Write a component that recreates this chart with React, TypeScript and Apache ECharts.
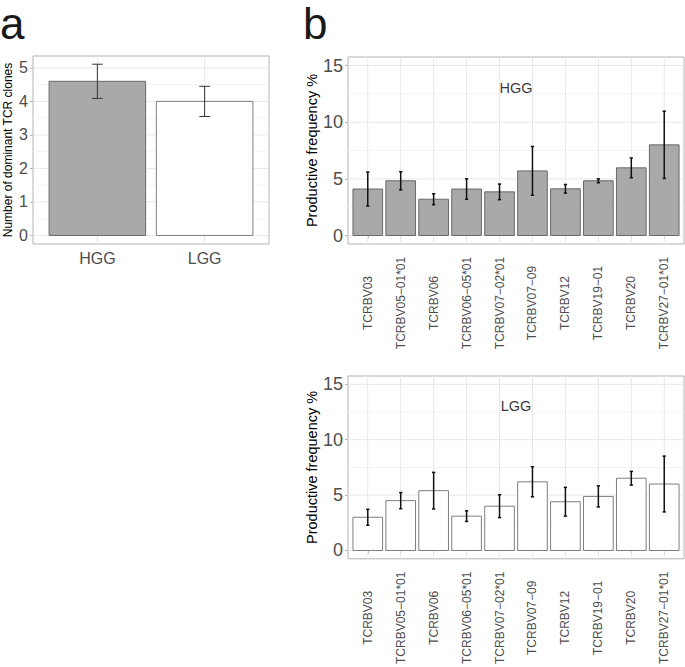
import React, { useEffect, useRef } from 'react';
import * as echarts from 'echarts';

// ---------- data ----------
const groupsA = ['HGG', 'LGG'];
const clonesMean = [4.6, 4.0];
const clonesErr = [0.51, 0.45];
const ticksA = [0, 1, 2, 3, 4, 5];
const minorA = [0.5, 1.5, 2.5, 3.5, 4.5];

const genes = [
  'TCRBV03',
  'TCRBV05\u221201*01',
  'TCRBV06',
  'TCRBV06\u221205*01',
  'TCRBV07\u221202*01',
  'TCRBV07\u221209',
  'TCRBV12',
  'TCRBV19\u221201',
  'TCRBV20',
  'TCRBV27\u221201*01',
];
const hggMean = [4.1, 4.83, 3.2, 4.1, 3.85, 5.7, 4.12, 4.83, 5.97, 8.0];
const hggErr = [1.5, 0.8, 0.48, 0.9, 0.69, 2.15, 0.38, 0.17, 0.87, 2.97];
const lggMean = [3.0, 4.5, 5.4, 3.1, 4.0, 6.2, 4.4, 4.88, 6.52, 6.0];
const lggErr = [0.72, 0.73, 1.65, 0.48, 1.03, 1.36, 1.3, 0.95, 0.62, 2.52];
const ticksB = [0, 5, 10, 15];
const minorB = [2.5, 7.5, 12.5];

// ---------- helpers ----------
const FONT = '"Liberation Sans", Arial, Helvetica, sans-serif';
const GRAY_TXT = '#4d4d4d';
const BORDER = '#b3b3b3';

function barRender(hw: number, fill: string, stroke: string) {
  return (params: any, api: any) => {
    const x = api.value(0);
    const y = api.value(1);
    const a = api.coord([x - hw, 0]);
    const b = api.coord([x + hw, y]);
    return {
      type: 'rect',
      shape: { x: a[0], y: b[1], width: b[0] - a[0], height: a[1] - b[1] },
      style: { fill, stroke, lineWidth: 1 },
    };
  };
}

function errRender(hw: number, color: string, lw: number) {
  return (params: any, api: any) => {
    const x = api.value(0);
    const m = api.value(1);
    const e = api.value(2);
    const top = api.coord([x, m + e]);
    const bot = api.coord([x, m - e]);
    const l = api.coord([x - hw, m])[0];
    const r = api.coord([x + hw, m])[0];
    const st = { stroke: color, lineWidth: lw };
    return {
      type: 'group',
      children: [
        { type: 'line', shape: { x1: top[0], y1: top[1], x2: bot[0], y2: bot[1] }, style: st },
        { type: 'line', shape: { x1: l, y1: top[1], x2: r, y2: top[1] }, style: st },
        { type: 'line', shape: { x1: l, y1: bot[1], x2: r, y2: bot[1] }, style: st },
      ],
    };
  };
}

// kind: 0 horizontal major, 1 horizontal minor, 2 vertical major
function gridRender(refX: number) {
  return (params: any, api: any) => {
    const v = api.value(0);
    const kind = api.value(1);
    const cs = params.coordSys;
    const color = kind === 1 ? '#f3f3f3' : '#e8e8e8';
    if (kind === 2) {
      const x = api.coord([v, 0])[0];
      return {
        type: 'line',
        shape: { x1: x, y1: cs.y, x2: x, y2: cs.y + cs.height },
        style: { stroke: color, lineWidth: 1 },
      };
    }
    const y = api.coord([refX, v])[1];
    return {
      type: 'line',
      shape: { x1: cs.x, y1: y, x2: cs.x + cs.width, y2: y },
      style: { stroke: color, lineWidth: 1 },
    };
  };
}

function gridData(majors: number[], minors: number[], centers: number[]) {
  return [
    ...majors.map((v) => [v, 0]),
    ...minors.map((v) => [v, 1]),
    ...centers.map((v) => [v, 2]),
  ];
}

const centersA = groupsA.map((_, i) => i + 1);
const centersB = genes.map((_, i) => i + 1);

function xAxisFor(gridIndex: number, n: number, names: string[], labelOpts: any) {
  const centers = names.map((_, i) => i + 1);
  return {
    type: 'value',
    gridIndex,
    min: 0.4,
    max: n + 0.6,
    axisLine: { show: false },
    splitLine: { show: false },
    axisTick: { show: true, customValues: centers, length: 3, lineStyle: { color: BORDER, width: 1 } },
    axisLabel: {
      customValues: centers,
      formatter: (v: number) => names[Math.round(v) - 1] ?? '',
      color: GRAY_TXT,
      fontFamily: FONT,
      ...labelOpts,
    },
  };
}

function yAxisFor(gridIndex: number, min: number, max: number, ticks: number[], fontSize: number, name: string, nameSize: number, nameGap: number) {
  return {
    type: 'value',
    gridIndex,
    min,
    max,
    name,
    nameLocation: 'middle',
    nameGap,
    nameTextStyle: { fontSize: nameSize, color: '#000', fontFamily: FONT },
    axisLine: { show: false },
    splitLine: { show: false },
    axisTick: { show: true, customValues: ticks, length: 3, lineStyle: { color: BORDER, width: 1 } },
    axisLabel: {
      customValues: ticks,
      formatter: (v: number) => String(v),
      color: GRAY_TXT,
      fontFamily: FONT,
      fontSize,
      margin: 5,
    },
  };
}

export default function App() {
  const ref = useRef<HTMLDivElement>(null);

  useEffect(() => {
    if (!ref.current) return;
    const chart = echarts.init(ref.current, undefined, { renderer: 'svg' });

    const gridStyle = { show: true, borderColor: BORDER, borderWidth: 1, backgroundColor: 'transparent' };

    const option: any = {
      animation: false,
      backgroundColor: '#ffffff',
      textStyle: { fontFamily: FONT },
      grid: [
        { ...gridStyle, left: 33, top: 56, width: 236, height: 188 },
        { ...gridStyle, left: 348, top: 57, width: 336, height: 187 },
        { ...gridStyle, left: 348, top: 376, width: 336, height: 186 },
      ],
      xAxis: [
        xAxisFor(0, groupsA.length, groupsA, { fontSize: 16, margin: 6 }),
        xAxisFor(1, genes.length, genes, { fontSize: 12, rotate: 90, align: 'center', verticalAlign: 'middle', margin: 59, interval: 0 }),
        xAxisFor(2, genes.length, genes, { fontSize: 12, rotate: 90, align: 'center', verticalAlign: 'middle', margin: 59, interval: 0 }),
      ],
      yAxis: [
        yAxisFor(0, -0.255, 5.355, ticksA, 16, 'Number of dominant TCR clones', 12, 19),
        yAxisFor(1, -0.75, 15.75, ticksB, 18, 'Productive frequency %', 14.5, 25),
        yAxisFor(2, -0.75, 15.75, ticksB, 18, 'Productive frequency %', 14.5, 25),
      ],
      graphic: [
        { type: 'text', left: 0, top: 1, style: { text: 'a', fontSize: 44, lineHeight: 28, fontFamily: FONT, fill: '#1a1a1a' } },
        { type: 'text', left: 303, top: 1, style: { text: 'b', fontSize: 44, lineHeight: 28, fontFamily: FONT, fill: '#1a1a1a' } },
      ],
      series: [
        // grid lines
        { type: 'custom', xAxisIndex: 0, yAxisIndex: 0, z: 1, silent: true, renderItem: gridRender(1), data: gridData(ticksA, minorA, centersA) },
        { type: 'custom', xAxisIndex: 1, yAxisIndex: 1, z: 1, silent: true, renderItem: gridRender(1), data: gridData(ticksB, minorB, centersB) },
        { type: 'custom', xAxisIndex: 2, yAxisIndex: 2, z: 1, silent: true, renderItem: gridRender(1), data: gridData(ticksB, minorB, centersB) },
        // panel a bars
        {
          type: 'custom', xAxisIndex: 0, yAxisIndex: 0, z: 2,
          renderItem: barRender(0.45, '#a9a9a9', '#6a6a6a'),
          data: [[1, clonesMean[0]]],
        },
        {
          type: 'custom', xAxisIndex: 0, yAxisIndex: 0, z: 2,
          renderItem: barRender(0.45, '#ffffff', '#7f7f7f'),
          data: [[2, clonesMean[1]]],
        },
        {
          type: 'custom', xAxisIndex: 0, yAxisIndex: 0, z: 3,
          renderItem: errRender(0.05, '#333333', 1),
          data: clonesMean.map((m, i) => [i + 1, m, clonesErr[i]]),
        },
        // panel b HGG
        {
          type: 'custom', xAxisIndex: 1, yAxisIndex: 1, z: 2,
          renderItem: barRender(0.45, '#a9a9a9', '#6a6a6a'),
          data: hggMean.map((m, i) => [i + 1, m]),
        },
        {
          type: 'custom', xAxisIndex: 1, yAxisIndex: 1, z: 3,
          renderItem: errRender(0.05, '#111111', 1.5),
          data: hggMean.map((m, i) => [i + 1, m, hggErr[i]]),
        },
        // panel b LGG
        {
          type: 'custom', xAxisIndex: 2, yAxisIndex: 2, z: 2,
          renderItem: barRender(0.45, '#ffffff', '#7f7f7f'),
          data: lggMean.map((m, i) => [i + 1, m]),
        },
        {
          type: 'custom', xAxisIndex: 2, yAxisIndex: 2, z: 3,
          renderItem: errRender(0.05, '#111111', 1.5),
          data: lggMean.map((m, i) => [i + 1, m, lggErr[i]]),
        },
        // facet annotations
        {
          type: 'scatter', xAxisIndex: 1, yAxisIndex: 1, z: 4, symbolSize: 1,
          itemStyle: { color: 'rgba(0,0,0,0)' },
          label: { show: true, position: 'inside', formatter: 'HGG', fontSize: 14.5, color: '#000', fontFamily: FONT },
          data: [[5.5, 13]],
        },
        {
          type: 'scatter', xAxisIndex: 2, yAxisIndex: 2, z: 4, symbolSize: 1,
          itemStyle: { color: 'rgba(0,0,0,0)' },
          label: { show: true, position: 'inside', formatter: 'LGG', fontSize: 14.5, color: '#000', fontFamily: FONT },
          data: [[5.5, 13]],
        },
      ],
    };

    chart.setOption(option);
    return () => chart.dispose();
  }, []);

  return (
    <div
      ref={ref}
      style={{ position: 'absolute', left: 0, top: 0, width: 685, height: 667, background: '#fff' }}
    />
  );
}
